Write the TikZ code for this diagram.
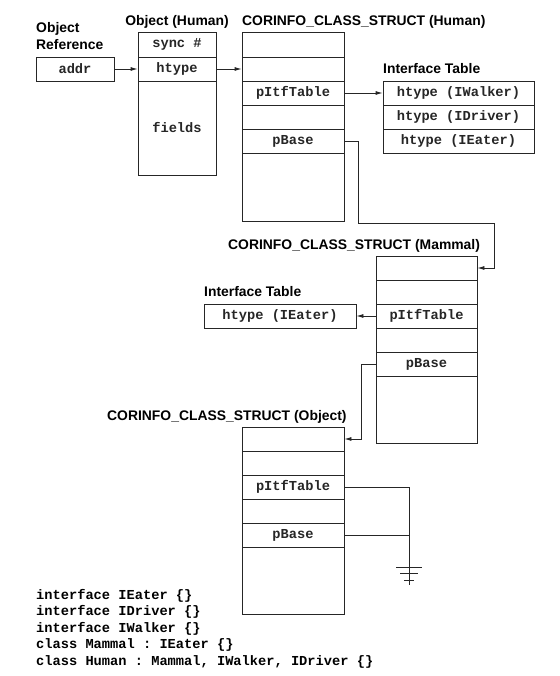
\documentclass[tikz,border=0pt]{standalone}
\usepackage{fontspec}
\setmainfont{Liberation Sans}
\setmonofont{Liberation Mono}
\usetikzlibrary{arrows.meta}
\begin{document}
\begin{tikzpicture}[x=1pt,y=-1pt,
  wh/.style 2 args={minimum width=#1pt, minimum height=#2pt},
  cell/.style={draw=black!85, line width=0.8pt, inner sep=0pt, font=\ttfamily\bfseries\fontsize{13.7}{16}\selectfont, text=black!85},
  lbl/.style={anchor=base west, inner sep=0pt, font=\bfseries\fontsize{13.9}{16}\selectfont},
  code/.style={anchor=base west, inner sep=0pt, font=\ttfamily\bfseries\fontsize{13.7}{16}\selectfont},
  conn/.style={draw=black!85, line width=0.8pt},
  arr/.style={conn, -{Latex[length=7pt,width=4pt]}}]
\fill[white] (0,0) rectangle (559,676);
\useasboundingbox (0,0) rectangle (559,676);

% labels
\node[lbl] (lobj1) at (36,32.5) {Object};
\node[lbl] (lobj2) at (36,50) {Reference};
\node[lbl, anchor=base] (loh) at (177,26) {Object (Human)};
\node[lbl] (lch) at (242,26) {CORINFO\_CLASS\_STRUCT (Human)};
\node[lbl] (lit) at (383,74) {Interface Table};
\node[lbl] (lmr) at (228,249) {CORINFO\_CLASS\_STRUCT (Mammal)};
\node[lbl] (litm) at (204,296.7) {Interface Table};
\node[lbl] (lor) at (107,420) {CORINFO\_CLASS\_STRUCT (Object)};

% object reference
\node[cell, wh={78}{24}] (addr) at (75,69) {addr};

% Object (Human)
\node[cell, wh={78}{25}] (oh1) at (177,44.5) {sync \#};
\node[cell, wh={78}{24}] (oh2) at (177,69) {htype};
\node[cell, wh={78}{94}] (oh3) at (177,128) {fields};

% CORINFO Human
\node[cell, wh={102}{25}] (ch1) at (293,44.5) {};
\node[cell, wh={102}{24}] (ch2) at (293,69) {};
\node[cell, wh={102}{24}] (ch3) at (293,93) {pItfTable};
\node[cell, wh={102}{24}] (ch4) at (293,117) {};
\node[cell, wh={102}{24}] (ch5) at (293,141) {pBase};
\node[cell, wh={102}{68}] (ch6) at (293,187) {};

% Interface table Human
\node[cell, wh={151}{24}] (it1) at (458.5,93) {htype (IWalker)};
\node[cell, wh={151}{24}] (it2) at (458.5,117) {htype (IDriver)};
\node[cell, wh={151}{24}] (it3) at (458.5,141) {htype (IEater)};

% CORINFO Mammal
\node[cell, wh={101}{24}] (mr1) at (426.5,268) {};
\node[cell, wh={101}{24}] (mr2) at (426.5,292) {};
\node[cell, wh={101}{24}] (mr3) at (426.5,316) {pItfTable};
\node[cell, wh={101}{24}] (mr4) at (426.5,340) {};
\node[cell, wh={101}{24}] (mr5) at (426.5,364) {pBase};
\node[cell, wh={101}{67}] (mr6) at (426.5,409.5) {};

% Interface table Mammal
\node[cell, wh={152}{24}] (itm) at (280,316) {htype (IEater)};

% CORINFO Object
\node[cell, wh={102}{24}] (or1) at (293,439) {};
\node[cell, wh={102}{24}] (or2) at (293,463) {};
\node[cell, wh={102}{24}] (or3) at (293,487) {pItfTable};
\node[cell, wh={102}{24}] (or4) at (293,511) {};
\node[cell, wh={102}{24}] (or5) at (293,535) {pBase};
\node[cell, wh={102}{67}] (or6) at (293,580.5) {};

% connectors
\draw[arr] (addr.east) -- (oh2.west);
\draw[arr] (oh2.east) -- (ch2.west);
\draw[arr] (ch3.east) -- (it1.west);
\coordinate (k1) at (494,223);
\draw[arr] (ch5.east) -- ++(14,0) |- (k1) |- (mr1.east);
\draw[arr] (mr3.west) -- (itm.east);
\draw[arr] (mr5.west) -- ++(-14,0) |- (or1.east);

% ground
\coordinate (g) at (409,567);
\coordinate (gend) at (409,585);
\draw[conn] (or3.east) -| (gend);
\draw[conn] (or5.east) -- (or5.east -| g);
\draw[conn] (396,567) -- (422,567);
\draw[conn] (400,573.5) -- (418,573.5);
\draw[conn] (404,580) -- (414,580);

% code
\node[code] (c1) at (36,599) {interface IEater \{\}};
\node[code] (c2) at (36,615.5) {interface IDriver \{\}};
\node[code] (c3) at (36,632) {interface IWalker \{\}};
\node[code] (c4) at (36,648.5) {class Mammal : IEater \{\}};
\node[code] (c5) at (36,665) {class Human : Mammal, IWalker, IDriver \{\}};
\end{tikzpicture}
\end{document}
